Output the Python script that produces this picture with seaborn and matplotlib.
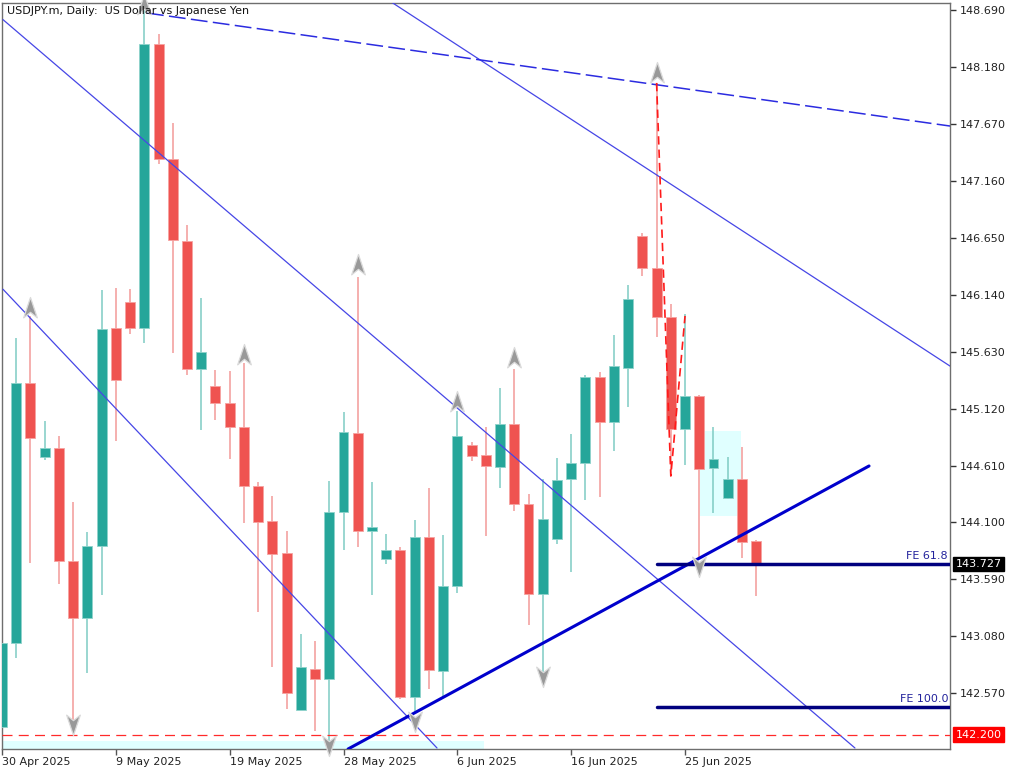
import numpy as np
import pandas as pd
import matplotlib
matplotlib.use("Agg")
import matplotlib.pyplot as plt
import matplotlib.transforms as mtransforms
from matplotlib.path import Path
from matplotlib.patches import Rectangle
import seaborn as sns

# ---------------- data ----------------
title = "USDJPY.m, Daily:  US Dollar vs Japanese Yen"

opens = [142.268, 143.021, 145.349, 144.687, 144.767, 143.755, 143.245, 143.889, 145.842, 146.075,
         145.842, 148.386, 147.356, 146.621, 145.475, 145.323, 145.170, 144.955, 144.427, 144.113,
         143.827, 142.421, 142.788, 142.698, 144.194, 144.902, 144.024, 143.773, 143.854, 142.537,
         143.970, 142.770, 143.531, 144.794, 144.705, 144.597, 144.982, 144.266, 143.460, 143.952,
         144.490, 144.633, 145.403, 145.000, 145.484, 146.666, 146.380, 145.941, 144.937, 145.233,
         144.588, 144.319, 144.490, 143.934]
highs = [143.030, 145.753, 145.950, 145.009, 144.875, 144.284, 144.015, 146.182, 146.200, 146.191,
         148.726, 148.475, 147.678, 146.765, 146.111, 145.466, 145.457, 145.529, 144.463, 144.337,
         144.024, 143.101, 143.039, 144.472, 145.090, 146.299, 144.463, 143.997, 143.881, 144.122,
         144.409, 143.988, 145.099, 144.821, 144.955, 145.305, 145.475, 144.355, 144.490, 144.678,
         144.893, 145.421, 145.448, 145.779, 146.227, 146.693, 148.037, 146.057, 145.967, 145.240,
         144.955, 144.687, 144.776, 143.943]
lows = [142.260, 142.886, 143.737, 144.660, 143.549, 142.241, 142.752, 143.451, 144.830, 145.788,
        145.708, 147.311, 145.618, 145.421, 144.928, 145.018, 144.669, 144.095, 143.298, 142.806,
        142.429, 142.421, 142.232, 142.134, 143.854, 143.881, 143.451, 143.728, 142.520, 142.394,
        142.609, 142.537, 143.469, 144.651, 143.979, 144.409, 144.203, 143.182, 142.752, 143.907,
        143.657, 144.301, 144.328, 144.740, 145.135, 146.308, 145.761, 144.516, 144.615, 143.782,
        144.185, 144.310, 143.782, 143.442]
closes = [143.021, 145.349, 144.857, 144.767, 143.755, 143.245, 143.889, 145.833, 145.376, 145.842,
          148.386, 147.356, 146.630, 145.475, 145.627, 145.170, 144.955, 144.427, 144.104, 143.818,
          142.573, 142.806, 142.698, 144.194, 144.911, 144.024, 144.060, 143.854, 142.537, 143.970,
          142.779, 143.531, 144.875, 144.696, 144.606, 144.982, 144.266, 143.460, 144.131, 144.481,
          144.633, 145.403, 145.000, 145.502, 146.102, 146.380, 145.941, 144.937, 145.233, 144.579,
          144.669, 144.490, 143.925, 143.727]

date_ticks = [0, 8, 16, 24, 32, 40, 48]
date_labels = ["30 Apr 2025", "9 May 2025", "19 May 2025", "28 May 2025",
               "6 Jun 2025", "16 Jun 2025", "25 Jun 2025"]
price_ticks = [148.690, 148.180, 147.670, 147.160, 146.650, 146.140, 145.630,
               145.120, 144.610, 144.100, 143.590, 143.080, 142.570]

# trend lines (bar index, price)
chan_a_x = [0.07, 59.94]
chan_a_y = [148.604, 142.080]
chan_b_x = [0.07, 30.57]
chan_b_y = [146.189, 142.080]
chan_c_x = [27.40, 66.62]
chan_c_y = [148.758, 145.501]
dash_top_x = [10.19, 66.62]
dash_top_y = [148.663, 147.651]
support_x = [24.32, 60.93]
support_y = [142.071, 144.606]
zigzag_x = [46, 47, 48]
zigzag_y = [148.037, 144.516, 145.950]

fe_start = 46
fe_levels = [143.727, 142.444]
fe_labels = ["FE 61.8", "FE 100.0"]
level_red = 142.200
last_price = 143.727

up_arrow_x = [2, 10, 17, 25, 32, 36, 46]
up_arrow_y = [146.021, 148.735, 145.600, 146.406, 145.179, 145.573, 148.126]
down_arrow_x = [5, 23, 29, 38, 49]
down_arrow_y = [142.295, 142.107, 142.322, 142.725, 143.710]

box_x = [49.05, 51.93]
box_y = [144.158, 144.919]
band_x = [-1.0, 33.9]
band_y = [141.9, 142.143]

# ---------------- style ----------------
sns.set_theme(style="white")
plt.rcParams["font.family"] = ["DejaVu Sans"]

W, H = 1024, 773
fig = plt.figure(figsize=(W / 100, H / 100), dpi=100)
ax = fig.add_axes([2 / W, (H - 749) / H, 948 / W, 746 / H])

XMAX = 66.62
YMIN, YMAX = 142.071, 148.753

df = pd.DataFrame({"o": opens, "h": highs, "l": lows, "c": closes})
df["x"] = np.arange(len(df))
up = df["c"] >= df["o"]

GREEN = "#26A69A"
RED = "#EF5350"
GREEN_W = "#7FCBC3"
RED_W = "#F39A98"

# background shapes
ax.add_patch(Rectangle((band_x[0], band_y[0]), band_x[1] - band_x[0], band_y[1] - band_y[0],
                       facecolor="#E0FFFF", edgecolor="none", zorder=0))
ax.add_patch(Rectangle((box_x[0], box_y[0]), box_x[1] - box_x[0], box_y[1] - box_y[0],
                       facecolor="#E0FFFF", edgecolor="none", zorder=0))

# wicks
ax.vlines(df["x"][up], df["l"][up], df["h"][up], color=GREEN_W, lw=1.1, zorder=2)
ax.vlines(df["x"][~up], df["l"][~up], df["h"][~up], color=RED_W, lw=1.1, zorder=2)

# bodies
bh = (df["c"] - df["o"]).abs().clip(lower=0.012)
bb = df[["o", "c"]].min(axis=1)
ax.bar(df["x"][up], bh[up], bottom=bb[up], width=0.70, color=GREEN,
       edgecolor="#8fd3cb", linewidth=0.6, zorder=3)
ax.bar(df["x"][~up], bh[~up], bottom=bb[~up], width=0.70, color=RED,
       edgecolor="#f6a3a1", linewidth=0.6, zorder=3)

# lines
THIN = "#4646E6"
sns.lineplot(x=chan_a_x, y=chan_a_y, ax=ax, color=THIN, lw=0.9, zorder=4)
sns.lineplot(x=chan_b_x, y=chan_b_y, ax=ax, color=THIN, lw=0.9, zorder=4)
sns.lineplot(x=chan_c_x, y=chan_c_y, ax=ax, color=THIN, lw=0.9, zorder=4)
ax.plot(dash_top_x, dash_top_y, color="#2B2BE0", lw=1.1, dashes=(11, 3.5), zorder=4)
sns.lineplot(x=support_x, y=support_y, ax=ax, color="#0000CC", lw=2.2, zorder=5)
ax.plot(zigzag_x, zigzag_y, color="#FF1A1A", lw=1.2, dashes=(5, 3), zorder=5)

for lvl, lab in zip(fe_levels, fe_labels):
    sns.lineplot(x=[fe_start, XMAX + 1], y=[lvl, lvl], ax=ax, color="#00007F", lw=2.5, zorder=5)
    ax.text(0.998, lvl + 0.03, lab, transform=mtransforms.blended_transform_factory(ax.transAxes, ax.transData),
            ha="right", va="bottom", fontsize=8, color="#23239C", zorder=6)

ax.axhline(level_red, color="#FF2A2A", lw=0.9, dashes=(8, 5), zorder=4)

# arrows
dart = Path([(0, 1.0), (0.62, -0.85), (0, -0.35), (-0.62, -0.85), (0, 1.0)],
            [Path.MOVETO, Path.LINETO, Path.LINETO, Path.LINETO, Path.CLOSEPOLY])
dart_down = Path([(0, -1.0), (0.62, 0.85), (0, 0.35), (-0.62, 0.85), (0, -1.0)],
                 [Path.MOVETO, Path.LINETO, Path.LINETO, Path.LINETO, Path.CLOSEPOLY])
ax.scatter(up_arrow_x, up_arrow_y, marker=dart, s=250, facecolor="#999999",
           edgecolor="#DADADA", linewidths=0.9, zorder=7, clip_on=False)
ax.scatter(down_arrow_x, down_arrow_y, marker=dart_down, s=250, facecolor="#999999",
           edgecolor="#DADADA", linewidths=0.9, zorder=7, clip_on=False)

# axes
ax.set_xlim(0, XMAX)
ax.set_ylim(YMIN, YMAX)
ax.set_xlabel("")
ax.set_ylabel("")
ax.yaxis.tick_right()
ax.set_yticks(price_ticks)
ax.set_yticklabels([f"{v:.3f}" for v in price_ticks])
ax.set_xticks(date_ticks)
ax.set_xticklabels(date_labels, ha="left")
ax.tick_params(axis="y", which="both", right=True, left=False, length=4, width=1,
               direction="out", pad=3, labelsize=8, colors="#333333", labelcolor="#222222")
ax.tick_params(axis="x", which="both", bottom=True, length=4, width=1,
               direction="out", pad=2, labelsize=8, colors="#555555", labelcolor="#222222")
for sp in ax.spines.values():
    sp.set_visible(True)
    sp.set_color("#6E6E6E")
    sp.set_linewidth(1)

# price labels on the right
blend = mtransforms.blended_transform_factory(ax.transAxes, ax.transData)
ax.text(1.006, last_price, f"{last_price:.3f}", transform=blend, ha="left", va="center",
        fontsize=8, color="white", zorder=8, clip_on=False,
        bbox=dict(facecolor="black", edgecolor="black", boxstyle="square,pad=0.2"))
ax.text(1.006, level_red, f"{level_red:.3f}", transform=blend, ha="left", va="center",
        fontsize=8, color="white", zorder=8, clip_on=False,
        bbox=dict(facecolor="#FF0000", edgecolor="#FF0000", boxstyle="square,pad=0.2"))

# title
ax.text(5 / 948, 1 - 8 / 746, title, transform=ax.transAxes, ha="left", va="center",
        fontsize=8, color="#111111", zorder=9)

fig.savefig("out.png", dpi=100, facecolor="white")
